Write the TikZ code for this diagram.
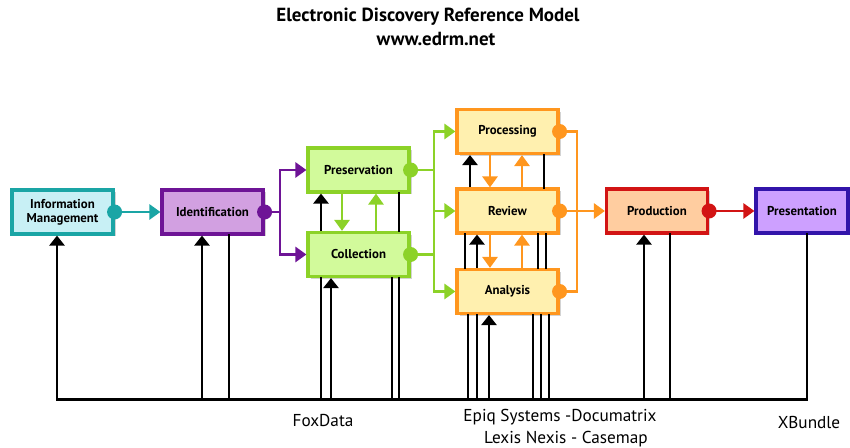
\documentclass[tikz,border=0pt]{standalone}
\usepackage{fontspec}
\setmainfont{PT Sans}
\usetikzlibrary{arrows.meta, shadows}

\definecolor{imline}{HTML}{1AA5A5}
\definecolor{imfill}{HTML}{C8F0F5}
\definecolor{idline}{HTML}{6E1496}
\definecolor{idfill}{HTML}{D2A0E1}
\definecolor{pcline}{HTML}{8CD228}
\definecolor{pcfill}{HTML}{D2FA9B}
\definecolor{prline}{HTML}{FF961E}
\definecolor{prfill}{HTML}{FFF0AF}
\definecolor{poline}{HTML}{D21414}
\definecolor{pofill}{HTML}{FFCDA0}
\definecolor{psline}{HTML}{3214AA}
\definecolor{psfill}{HTML}{CDA0FF}

\tikzset{
  stage/.style={draw=#1line, fill=#1fill, line width=1.8pt, minimum width=2.02cm,
    minimum height=0.88cm, inner sep=1pt, align=center,
    font=\fontsize{7.3}{8}\selectfont\bfseries,
    drop shadow={opacity=0.35, shadow xshift=0.5mm, shadow yshift=-0.5mm}},
  flow/.style={draw=#1line, line width=1.6pt, -{Triangle[width=3mm, length=2.2mm]}},
  feed/.style={line width=1.4pt, -{Triangle[width=3mm, length=2mm]}},
  tool/.style={line width=1.4pt, line cap=rect},
  vendor/.style={font=\fontsize{9.8}{11}\selectfont},
}

\begin{document}
\begin{tikzpicture}
  \useasboundingbox (0,0) rectangle (17,8.96);

  % -- Title --
  \node[font=\fontsize{10.8}{12}\selectfont\bfseries] (title) at (8.56,8.62) {Electronic Discovery Reference Model};
  \node[font=\fontsize{10.8}{12}\selectfont\bfseries] (url) at (8.72,8.17) {www.edrm.net};

  % -- Stages --
  \node[stage=im] (infomgmt) at (1.25,4.72) {Information\\Management};
  \node[stage=id] (ident) at (4.25,4.72) {Identification};
  \node[stage=pc] (preserv) at (7.17,5.56) {Preservation};
  \node[stage=pc] (collect) at (7.17,3.87) {Collection};
  \node[stage=pr] (process) at (10.15,6.33) {Processing};
  \node[stage=pr] (review) at (10.15,4.74) {Review};
  \node[stage=pr] (analysis) at (10.15,3.13) {Analysis};
  \node[stage=po] (product) at (13.14,4.74) {Production};
  \node[stage=ps, minimum width=1.84cm] (present) at (16.04,4.74) {Presentation};

  % -- Tool bus --
  \coordinate (busL) at (1.14,0.97);
  \coordinate (busR) at (16.14,0.97);
  \draw[tool] (busL) -- (busR);

  % -- Tool lines (arrow = feeds the stage) --
  \foreach \bx/\x in {infomgmt/1.14, ident/4.04, collect/6.62, analysis/9.78, product/12.88}
    \draw[feed] (busL -| \x,0) -- (\bx.south -| \x,0);
  \foreach \bx/\x in {ident/4.58, collect/6.42, collect/7.84, collect/7.98, analysis/9.36,
      analysis/9.54, analysis/10.66, analysis/10.82, analysis/10.98, product/13.40, present/16.14}
    \draw[tool] (busL -| \x,0) -- (\bx.south -| \x,0);

  % -- Tool lines between stages --
  \foreach \lo/\up/\x in {collect/preserv/6.42, review/process/9.40, analysis/review/9.54}
    \draw[feed] (\lo.north -| \x,0) -- (\up.south -| \x,0);
  \foreach \lo/\up/\x in {collect/preserv/7.98, review/process/10.88, analysis/review/9.30,
      analysis/review/10.76, analysis/review/10.92}
    \draw[tool] (\lo.north -| \x,0) -- (\up.south -| \x,0);

  % -- Stage flow --
  \draw[flow=im] (infomgmt.east) -- (ident.west);

  \coordinate (splitid) at (5.60,4.72);
  \draw[flow=id, -] (ident.east) -- (splitid);
  \draw[flow=id] (splitid) |- (preserv.west);
  \draw[flow=id] (splitid) |- (collect.west);

  \coordinate (splitpc) at (8.68,5.56);
  \draw[flow=pc, -] (preserv.east) -- (splitpc);
  \draw[flow=pc, -] (collect.east) -- (collect.east -| splitpc);
  \draw[flow=pc] (splitpc) |- (process.west);
  \draw[flow=pc] (splitpc) |- (analysis.west);
  \draw[flow=pc] (review.west -| splitpc) -- (review.west);
  \draw[flow=pc] (preserv.south -| 6.84,0) -- (collect.north -| 6.84,0);
  \draw[flow=pc] (collect.north -| 7.52,0) -- (preserv.south -| 7.52,0);

  \foreach \up/\lo in {process/review, review/analysis} {
    \draw[flow=pr] (\up.south -| 9.80,0) -- (\lo.north -| 9.80,0);
    \draw[flow=pr] (\lo.north -| 10.44,0) -- (\up.south -| 10.44,0);
  }
  \coordinate (splitpr) at (11.54,6.33);
  \draw[flow=pr, -] (process.east) -- (splitpr) |- (analysis.east);
  \draw[flow=pr] (review.east) -- (product.west);

  \draw[flow=po] (product.east) -- (present.west);

  % -- Output dots --
  \foreach \bx/\col in {infomgmt/imline, ident/idline, preserv/pcline, collect/pcline,
      process/prline, review/prline, analysis/prline, product/poline}
    \fill[\col] (\bx.east) circle (0.15);

  % -- Vendors --
  \node[vendor] (foxdata) at (6.46,0.54) {FoxData};
  \node[vendor] (epiq) at (11.20,0.62) {Epiq Systems -Documatrix};
  \node[vendor] (lexis) at (11.32,0.18) {Lexis Nexis - Casemap};
  \node[vendor] (xbundle) at (16.18,0.50) {XBundle};

\end{tikzpicture}
\end{document}
